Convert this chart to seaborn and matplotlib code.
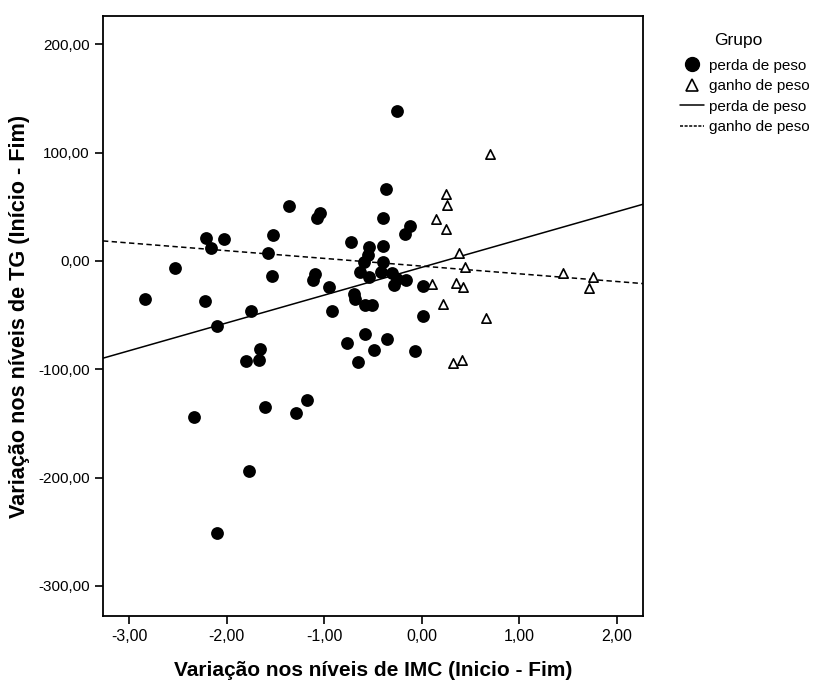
import numpy as np
import pandas as pd
import seaborn as sns
import matplotlib.pyplot as plt
from matplotlib.lines import Line2D

# data
perda_imc = [-2.84, -2.53, -2.34, -2.22, -2.21, -2.16, -2.10, -2.10, -2.03, -1.80,
             -1.77, -1.75, -1.67, -1.66, -1.61, -1.58, -1.54, -1.53, -1.36, -1.29,
             -1.18, -1.12, -1.10, -1.08, -1.04, -0.95, -0.92, -0.77, -0.73, -0.70,
             -0.69, -0.65, -0.63, -0.59, -0.58, -0.58, -0.55, -0.54, -0.54, -0.51,
             -0.49, -0.42, -0.40, -0.40, -0.40, -0.37, -0.36, -0.31, -0.29, -0.25,
             -0.25, -0.17, -0.16, -0.12, -0.07, 0.01, 0.01]
perda_tg = [-35, -7, -144, -37, 21, 12, -60, -251, 20, -92,
            -194, -46, -91, -81, -135, 7, -14, 24, 51, -140,
            -128, -18, -12, 40, 44, -24, -46, -76, 17, -31,
            -35, -93, -10, -1, -41, -67, 5, 13, -15, -41,
            -82, -10, 40, 14, -1, 66, -72, -11, -22, 138,
            -17, 25, -18, 32, -83, -23, -51]

ganho_imc = [0.10, 0.15, 0.22, 0.25, 0.26, 0.25, 0.32, 0.35, 0.38, 0.41,
             0.42, 0.44, 0.66, 0.70, 1.45, 1.71, 1.76]
ganho_tg = [-21, 39, -40, 62, 52, 29, -94, -20, 7, -91,
            -24, -6, -53, 99, -11, -25, -15]

# fit lines (intercept, slope)
fit_intercept = [-5.9, -4.8]
fit_slope = [25.65, -7.11]

grupos = ["perda de peso", "ganho de peso"]
x_ticks = [-3, -2, -1, 0, 1, 2]
y_ticks = [200, 100, 0, -100, -200, -300]

df = pd.DataFrame({
    "imc": perda_imc + ganho_imc,
    "tg": perda_tg + ganho_tg,
    "grupo": [grupos[0]] * len(perda_imc) + [grupos[1]] * len(ganho_imc),
})

sns.set_style("ticks")
plt.rcParams["font.family"] = ["Liberation Sans", "DejaVu Sans"]
plt.rcParams["text.color"] = "black"
plt.rcParams["axes.labelcolor"] = "black"
plt.rcParams["xtick.color"] = "black"
plt.rcParams["ytick.color"] = "black"

fig = plt.figure(figsize=(8.16, 6.82), dpi=100)
ax = fig.add_axes([0.1262, 0.0968, 0.662, 0.8797])

sub_p = df[df.grupo == grupos[0]]
sub_g = df[df.grupo == grupos[1]]
sns.scatterplot(data=sub_p, x="imc", y="tg", ax=ax, marker="o", s=85,
                color="black", edgecolor="black", linewidth=0, zorder=3, legend=False)
sns.scatterplot(data=sub_g, x="imc", y="tg", ax=ax, marker="^", s=45,
                facecolor="white", edgecolor="black", linewidth=1.2, zorder=4, legend=False)

styles = ["-", (0, (3.5, 2.2))]
for b, m, ls in zip(fit_intercept, fit_slope, styles):
    ax.axline((0, b), slope=m, color="black", lw=1.1, ls=ls, zorder=2)

ax.set_xlim(-3.27, 2.27)
ax.set_ylim(-327.7, 226)

ax.set_xticks(x_ticks)
ax.set_xticklabels([f"{v:.2f}".replace(".", ",") for v in x_ticks], fontsize=11.5)
ax.set_yticks(y_ticks)
ax.set_yticklabels([f"{v:.2f}".replace(".", ",") for v in y_ticks], fontsize=11)
ax.tick_params(length=6, width=1.2, color="black")
for s in ax.spines.values():
    s.set_visible(True)
    s.set_linewidth(1.3)
    s.set_color("black")

ax.set_xlabel("Variação nos níveis de IMC (Inicio - Fim)", fontsize=15, fontweight="bold",
              labelpad=12)
ax.set_ylabel("Variação nos níveis de TG (Início - Fim)", fontsize=15.6, fontweight="bold",
              labelpad=6)

handles = [
    Line2D([], [], marker="o", ls="none", color="black", markersize=10),
    Line2D([], [], marker="^", ls="none", mfc="white", mec="black", markersize=8, mew=1.2),
    Line2D([], [], color="black", lw=1.1),
    Line2D([], [], color="black", lw=1.1, ls=(0, (2, 1))),
]
leg = fig.legend(handles, grupos + grupos, title="Grupo", loc="upper left",
                 bbox_to_anchor=(0.833, 0.952), frameon=False, fontsize=11,
                 title_fontsize=12.5, handlelength=1.6, handletextpad=0.3,
                 labelspacing=0.42, borderpad=0, borderaxespad=0)
leg.get_title().set_position((-6, 0))
leg._legend_box.sep = 8

fig.savefig("out.png", dpi=100)
